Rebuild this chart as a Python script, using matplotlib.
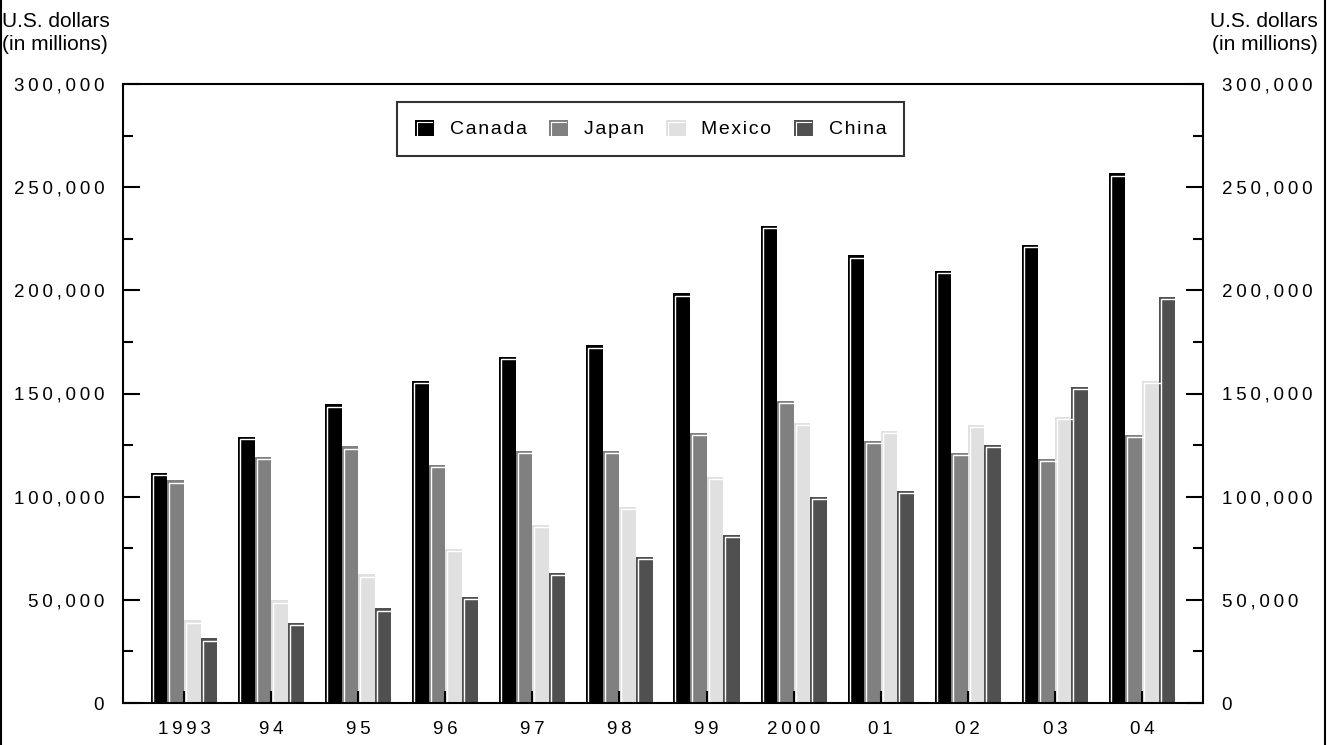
import numpy as np
import matplotlib
matplotlib.use("Agg")
import matplotlib.pyplot as plt
from matplotlib.patches import Rectangle
from matplotlib.lines import Line2D
from matplotlib.legend_handler import HandlerBase
from matplotlib.transforms import ScaledTranslation
from matplotlib.ticker import MultipleLocator

plt.rcParams['font.family'] = ['Liberation Sans', 'DejaVu Sans']

years = ['1993', '94', '95', '96', '97', '98', '99', '2000', '01', '02', '03', '04']
countries = ['Canada', 'Japan', 'Mexico', 'China']
canada = [111.6, 129.0, 144.7, 156.1, 167.7, 173.5, 198.7, 231.3, 217.1, 209.4, 222.0, 256.8]
japan = [107.9, 119.4, 124.4, 115.5, 122.3, 122.3, 131.0, 146.6, 127.1, 121.3, 118.4, 130.0]
mexico = [40.2, 49.8, 62.3, 74.8, 86.5, 95.2, 109.7, 135.8, 132.0, 134.9, 138.7, 156.1]
china = [31.3, 39.0, 45.8, 51.6, 63.2, 71.0, 81.6, 100.0, 102.9, 125.2, 153.2, 196.8]
colors = ['#000000', '#808080', '#e0e0e0', '#505050']

series = [np.array(s) * 1000 for s in (canada, japan, mexico, china)]


def spaced(s, sep='\u2009'):
    # the original uses wide letter spacing
    return sep.join(s)


class BarHandler(HandlerBase):
    def create_artists(self, legend, orig_handle, xdescent, ydescent,
                       width, height, fontsize, trans):
        x0, y0 = -xdescent, -ydescent
        r = Rectangle((x0, y0), width, height, facecolor=orig_handle.get_facecolor(),
                      edgecolor='none', transform=trans)
        d = 1.5
        ln = Line2D([x0 + d, x0 + d, x0 + width - d], [y0, y0 + height - d, y0 + height - d],
                    color='white', lw=0.8, transform=trans)
        return [r, ln]


fig = plt.figure(figsize=(13.32, 7.45), dpi=100)
ax = fig.add_axes([123 / 1332, 42 / 745, 1080 / 1332, 619 / 745])

x = np.arange(len(years))
w = 0.19
handles = []
for i, (vals, c) in enumerate(zip(series, colors)):
    bars = ax.bar(x + (i - 1.5) * w, vals, w, color=c, edgecolor='none', zorder=1)
    handles.append(bars[0])
    off = ax.transData + ScaledTranslation(2 / 100, -2.5 / 100, fig.dpi_scale_trans)
    for b in bars:
        bx, bw, bh = b.get_x(), b.get_width(), b.get_height()
        right = ax.transData.inverted().transform(
            ax.transData.transform((bx + bw, 0)) - (4, 0))[0]
        ax.plot([bx, bx, right], [0, bh, bh], color='white', lw=1.0,
                transform=off, zorder=1.5, solid_joinstyle='miter')

ax.set_xlim(-0.70, 11.70)
ax.set_ylim(0, 300000)
ax.set_xticks(x)
ax.set_xticklabels([spaced(y) for y in years], fontsize=13.5)

yt = np.arange(0, 300001, 50000)
ax.set_yticks(yt)
ax.set_yticklabels([spaced(f'{v:,}') for v in yt], fontsize=13.5)
ax.yaxis.set_minor_locator(MultipleLocator(25000))

ax.tick_params(axis='x', direction='in', length=9, width=1.5, pad=13)
ax.tick_params(axis='y', which='major', direction='in', length=12, width=1.5,
               pad=13.5, right=True, labelright=True)
ax.tick_params(axis='y', which='minor', direction='in', length=7, width=1.5, right=True)
for s in ax.spines.values():
    s.set_linewidth(1.5)

fig.text(2 / 1332, 1 - 12 / 745, 'U.S. dollars\n(in millions)', fontsize=15,
         ha='left', va='top', linespacing=1.3)
fig.text(1318 / 1332, 1 - 12 / 745, 'U.S. dollars\n(in millions)', fontsize=15,
         ha='right', va='top', linespacing=1.3, multialignment='right')

leg = ax.legend(handles, [spaced(c, '\u200a') for c in countries], ncol=4, fontsize=14,
                loc='upper left', bbox_to_anchor=(397 / 1332, 1 - 102 / 745),
                bbox_transform=fig.transFigure, frameon=True, fancybox=False,
                handlelength=1.0, handleheight=0.9, handletextpad=0.8,
                columnspacing=1.15, borderpad=0.9, borderaxespad=0,
                handler_map={Rectangle: BarHandler()})
leg.get_frame().set_edgecolor('black')
leg.get_frame().set_linewidth(1.5)

# page frame on the left and right edges
fig.add_artist(Line2D([1 / 1332, 1 / 1332], [0, 1], color='black', lw=1.5, transform=fig.transFigure))
fig.add_artist(Line2D([1325 / 1332, 1325 / 1332], [0, 1], color='black', lw=1.5, transform=fig.transFigure))

fig.savefig('out.png', dpi=100)
